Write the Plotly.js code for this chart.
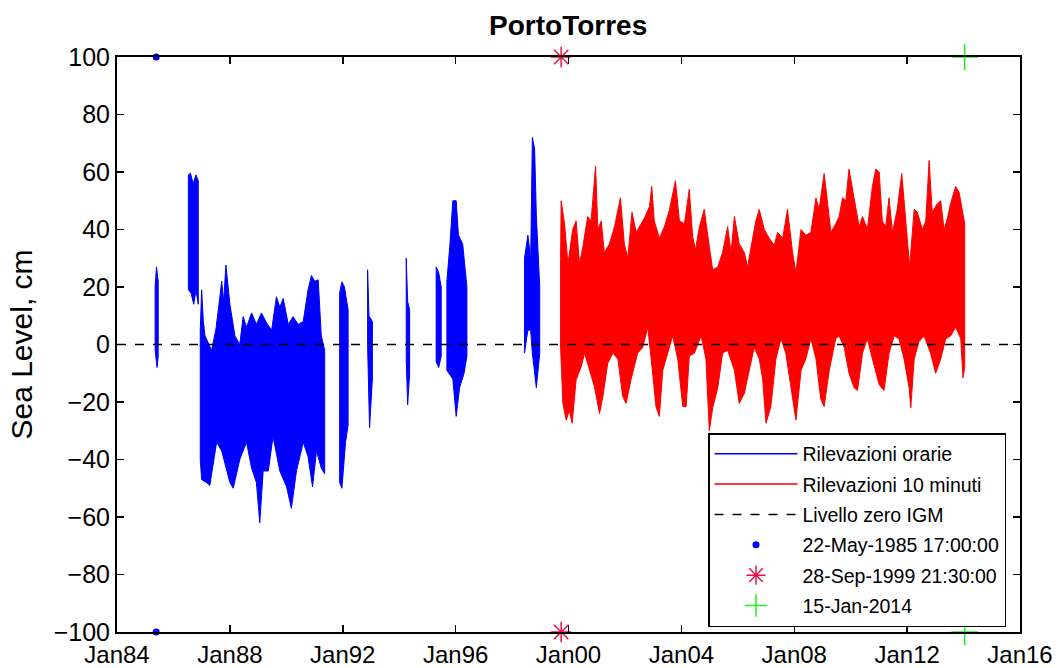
<!DOCTYPE html>
<html>
<head>
<meta charset="utf-8">
<script src="https://cdn.plot.ly/plotly-3.0.1.min.js"></script>
<style>html,body{margin:0;padding:0;background:#fff;}#chart{width:1064px;height:668px;}</style>
</head>
<body>
<div id="chart"></div>
<script>
// Hourly records (blue) - segments, upper and lower envelope
const hA_topT = [1985.35, 1985.40, 1985.46];
const hA_topV = [20, 27, 22];
const hA_botT = [1985.35, 1985.42, 1985.46];
const hA_botV = [-2, -8, -4];

const hB_topT = [1986.53, 1986.60, 1986.70, 1986.80, 1986.88];
const hB_topV = [59, 59.6, 56, 59, 57];
const hB_botT = [1986.53, 1986.62, 1986.72, 1986.80, 1986.88];
const hB_botV = [19, 18, 14, 19, 14];

const hC_topT = [1986.95, 1987.00, 1987.06, 1987.12, 1987.35, 1987.50, 1987.59, 1987.71, 1987.78, 1987.86, 1988.00, 1988.18, 1988.35, 1988.47, 1988.59, 1988.77, 1988.94, 1989.12, 1989.30, 1989.48, 1989.65, 1989.77, 1989.89, 1990.07, 1990.24, 1990.42, 1990.60, 1990.77, 1990.89, 1991.01, 1991.13, 1991.24, 1991.36];
const hC_topV = [5, 19, 8, 3, -2, 5, 12, 22, 15, 27.6, 14, 3, 0, 9.7, 6, 11, 7, 11, 7.5, 5, 16.6, 13, 16, 7, 9.7, 7, 8, 19, 24, 22, 22.5, 3, -2];
const hC_botT = [1986.95, 1987.00, 1987.17, 1987.29, 1987.53, 1987.71, 1988.00, 1988.12, 1988.35, 1988.59, 1988.77, 1988.94, 1989.06, 1989.18, 1989.36, 1989.53, 1989.77, 1990.01, 1990.18, 1990.36, 1990.60, 1990.77, 1990.93, 1991.07, 1991.24, 1991.36];
const hC_botV = [-40, -47, -48, -49, -34, -37, -48, -50, -40, -34, -43, -48, -62, -44, -44, -32, -44, -49.5, -57, -44, -34, -39, -49.5, -37, -43, -45];

const hD_topT = [1991.89, 1991.97, 1992.06, 1992.19];
const hD_topV = [18, 21.8, 20, 12];
const hD_botT = [1991.89, 1991.97, 1992.10, 1992.19];
const hD_botV = [-48, -50, -34, -28];

const hE_topT = [1992.88, 1992.93, 1993.05];
const hE_topV = [26, 10, 8];
const hE_botT = [1992.88, 1992.95, 1993.05];
const hE_botV = [0, -29, -12];

const hF_topT = [1994.25, 1994.30, 1994.37];
const hF_topV = [30, 15, 12];
const hF_botT = [1994.25, 1994.30, 1994.37];
const hF_botV = [-5, -21, -10];

const hG_topT = [1995.31, 1995.40, 1995.49];
const hG_topV = [27, 25, 20];
const hG_botT = [1995.31, 1995.40, 1995.49];
const hG_botV = [-6, -8, -4];

const hH_topT = [1995.69, 1995.80, 1995.90, 1996.02, 1996.10, 1996.25, 1996.40];
const hH_topV = [22, 35, 50, 50, 38, 35, 20];
const hH_botT = [1995.69, 1995.90, 1996.02, 1996.14, 1996.30, 1996.40];
const hH_botV = [-9, -12, -25, -15, -10, -4];

const hI_topT = [1998.44, 1998.56, 1998.66, 1998.72, 1998.80, 1998.86, 1998.98];
const hI_topV = [30, 38, 30, 72, 68, 45, 20];
const hI_botT = [1998.44, 1998.56, 1998.66, 1998.72, 1998.86, 1998.98];
const hI_botV = [-3, 5, 5, -3, -15, -3];

// 10-minute records (red) - upper and lower envelope
const tenMin_topT = [1999.72, 1999.74, 1999.86, 1999.98, 2000.15, 2000.27, 2000.39, 2000.51, 2000.68, 2000.80, 2000.96, 2001.04, 2001.16, 2001.27, 2001.45, 2001.63, 2001.84, 2001.98, 2002.10, 2002.25, 2002.40, 2002.51, 2002.69, 2002.87, 2002.95, 2003.04, 2003.22, 2003.40, 2003.58, 2003.79, 2003.93, 2004.11, 2004.28, 2004.40,
  2004.50, 2004.64, 2004.81, 2004.99, 2005.11, 2005.29, 2005.46, 2005.64, 2005.76, 2005.88, 2006.05, 2006.23, 2006.35, 2006.47, 2006.64, 2006.76, 2006.94, 2007.11, 2007.29, 2007.41, 2007.59, 2007.76, 2007.94, 2008.06, 2008.24, 2008.41, 2008.59, 2008.77, 2008.88, 2009.06, 2009.18, 2009.30, 2009.47,
  2009.59, 2009.71, 2009.83, 2009.94, 2010.12, 2010.30, 2010.42, 2010.59, 2010.77, 2010.89, 2011.01, 2011.12, 2011.24, 2011.36, 2011.48, 2011.65, 2011.81, 2011.95, 2012.09, 2012.25, 2012.36, 2012.54, 2012.66, 2012.78, 2012.89, 2013.07, 2013.19, 2013.31, 2013.43, 2013.54, 2013.72, 2013.84, 2013.98, 2014.04];
const tenMin_topV = [30, 50, 42, 28, 40, 43, 28, 34, 44.5, 43, 62, 40, 43, 32, 35, 41, 51, 35, 30, 46, 39, 41, 44, 48, 55, 43, 37, 41, 47, 57, 43, 42, 54, 37.5,
  33, 41, 47, 34, 26, 27, 32, 41, 32, 44.5, 35, 32, 27, 34, 43, 47, 40, 37, 34.5, 39, 37, 47, 32, 25, 40, 38, 39, 51, 47, 59.5, 48, 39, 42,
  44.5, 51, 50, 61, 51, 41, 44.5, 40, 55, 61, 60, 43, 41, 51, 39, 47, 59.5, 43, 27, 47, 46, 40, 43, 64, 46, 49, 50, 40, 44, 49, 55, 53, 44.5, 42];
const tenMin_botT = [1999.72, 1999.80, 1999.92, 2000.03, 2000.13, 2000.27, 2000.45, 2000.57, 2000.74, 2000.92, 2001.10, 2001.22, 2001.39, 2001.57, 2001.75, 2001.92, 2002.04, 2002.22, 2002.45, 2002.63, 2002.81, 2002.93, 2003.10, 2003.22, 2003.34, 2003.52, 2003.69, 2003.87, 2004.05, 2004.17, 2004.28,
  2004.46, 2004.70, 2004.87, 2004.99, 2005.11, 2005.29, 2005.46, 2005.64, 2005.88, 2006.05, 2006.23, 2006.41, 2006.58, 2006.76, 2006.88, 2007.00, 2007.17, 2007.35, 2007.53, 2007.70, 2007.88, 2008.06, 2008.24, 2008.41, 2008.59, 2008.77, 2008.94, 2009.06, 2009.24, 2009.47,
  2009.59, 2009.77, 2009.94, 2010.12, 2010.24, 2010.42, 2010.59, 2010.77, 2011.01, 2011.18, 2011.36, 2011.54, 2011.71, 2011.89, 2012.07, 2012.13, 2012.25, 2012.42, 2012.60, 2012.83, 2013.01, 2013.19, 2013.37, 2013.54, 2013.72, 2013.90, 2013.98, 2014.04];
const tenMin_botV = [-1, -20.5, -26.3, -23, -27.4, -12.3, -7.7, -3, -9, -14.7, -24, -18, -6.5, -3, -5, -18, -20.5, -12, -3, -1, 6, -5, -21.6, -25, -9, -3, 3, -5, -21.6, -21.6, -4,
  -3, 3, -5, -30, -22, -15, -3, -2, -9, -20.5, -17, -9, -1, -5, -12, -27.4, -21.6, -5, 2, -3, -14.7, -26.3, -9, -5, 2, -5, -19, -21.6, -9, 2,
  3, -1, -10, -15, -16, -3, 2, -5, -14, -16, -3, 3, 2, -5, -15, -22, -5, 1, 3, -3, -10, -5, 2, 3, 6, 2, -11.6, -8];

// Zero level line (Livello zero IGM)
const zeroT = [1984, 2016];
const zeroV = [0, 0];

// Event markers (drawn at top and bottom of the axes)
const ev1985T = [1985.39, 1985.39];
const ev1999T = [1999.74, 1999.74];
const ev2014T = [2014.04, 2014.04];
const evV = [100, -100];

// Labels
const legendNames = ['Rilevazioni orarie', 'Rilevazioni 10 minuti', 'Livello zero IGM',
  '22-May-1985 17:00:00', '28-Sep-1999 21:30:00', '15-Jan-2014'];
const xTickVals = [1984, 1988, 1992, 1996, 2000, 2004, 2008, 2012, 2016];
const xTickText = ['Jan84', 'Jan88', 'Jan92', 'Jan96', 'Jan00', 'Jan04', 'Jan08', 'Jan12', 'Jan16'];
const yTickVals = [-100, -80, -60, -40, -20, 0, 20, 40, 60, 80, 100];
const chartTitle = 'PortoTorres';
const yTitle = 'Sea Level, cm';

// ---- Build traces ----
function envelope(topT, topV, botT, botV, color) {
  const x = topT.concat(botT.slice().reverse(), [topT[0]]);
  const y = topV.concat(botV.slice().reverse(), [topV[0]]);
  return {x: x, y: y, mode: 'lines', fill: 'toself', fillcolor: color,
    line: {color: color, width: 1}, showlegend: false, hoverinfo: 'skip'};
}
const BLUE = '#0000ff', RED = '#ff0000';
const traces = [];
[[hA_topT,hA_topV,hA_botT,hA_botV],[hB_topT,hB_topV,hB_botT,hB_botV],[hC_topT,hC_topV,hC_botT,hC_botV],
 [hD_topT,hD_topV,hD_botT,hD_botV],[hE_topT,hE_topV,hE_botT,hE_botV],[hF_topT,hF_topV,hF_botT,hF_botV],
 [hG_topT,hG_topV,hG_botT,hG_botV],[hH_topT,hH_topV,hH_botT,hH_botV],[hI_topT,hI_topV,hI_botT,hI_botV]]
 .forEach(s => traces.push(envelope(s[0], s[1], s[2], s[3], BLUE)));
traces.push(envelope(tenMin_topT, tenMin_topV, tenMin_botT, tenMin_botV, RED));

// legend entries (line samples)
traces.push({x:[null], y:[null], mode:'lines', name: legendNames[0], line:{color:BLUE, width:1.5}, legendgroup:'a'});
traces.push({x:[null], y:[null], mode:'lines', name: legendNames[1], line:{color:RED, width:1.5}, legendgroup:'b'});
traces.push({x: zeroT, y: zeroV, mode:'lines', name: legendNames[2], line:{color:'#000', width:1.5, dash:'dash'}, legendgroup:'c'});
traces.push({x: ev1985T, y: evV, mode:'markers', name: legendNames[3], cliponaxis:false,
  marker:{symbol:'circle', size:7, color:'#0000ff'}, legendgroup:'d'});
traces.push({x: ev1999T, y: evV, mode:'markers', name: legendNames[4], cliponaxis:false,
  marker:{symbol:'asterisk-open', size:17, color:'#f0104a', line:{color:'#f0104a', width:1.5}}, legendgroup:'e'});
traces.push({x: ev2014T, y: evV, mode:'markers', name: legendNames[5], cliponaxis:false,
  marker:{symbol:'cross-thin-open', size:19, color:'#22ee22', line:{color:'#22ee22', width:1.5}}, legendgroup:'f'});

const FONT = 'Liberation Sans, Arial, Helvetica, sans-serif';
const layout = {
  width: 1064, height: 668,
  margin: {l: 117, r: 44, t: 57, b: 36},
  paper_bgcolor: '#fff', plot_bgcolor: '#fff',
  font: {family: FONT, color: '#000'},
  title: {text: chartTitle, font: {family: FONT, size: 28, weight: 'bold', color:'#000'}, x: 0.534, xanchor: 'center', y: 0.962, yanchor: 'middle'},
  showlegend: true,
  legend: {x: 0.6545, y: 0.346, xanchor: 'left', yanchor: 'top', bgcolor: '#fff',
    bordercolor: '#000', borderwidth: 1.5, font: {family: FONT, size: 19.5, color: '#000'},
    traceorder: 'grouped', tracegroupgap: 2, itemwidth: 83},
  xaxis: {range: [1984, 2016], tickvals: xTickVals, ticktext: xTickText, ticks: 'inside', ticklen: 7,
    tickwidth: 1.5, tickcolor: '#000', showline: true, linecolor: '#000', linewidth: 2, mirror: 'ticks',
    showgrid: false, zeroline: false, automargin: false, tickfont: {family: FONT, size: 24, color: '#000'}},
  yaxis: {range: [-100, 100], tickvals: yTickVals, ticks: 'inside', ticklen: 7,
    tickwidth: 1.5, tickcolor: '#000', showline: true, linecolor: '#000', linewidth: 2, mirror: 'ticks',
    showgrid: false, zeroline: false, automargin: false, tickfont: {family: FONT, size: 25, color: '#000'},
    title: {text: yTitle, font: {family: FONT, size: 30, color: '#000'}, standoff: 12}}
};
Plotly.newPlot('chart', traces, layout, {displayModeBar: false, staticPlot: true});
</script>
</body>
</html>
